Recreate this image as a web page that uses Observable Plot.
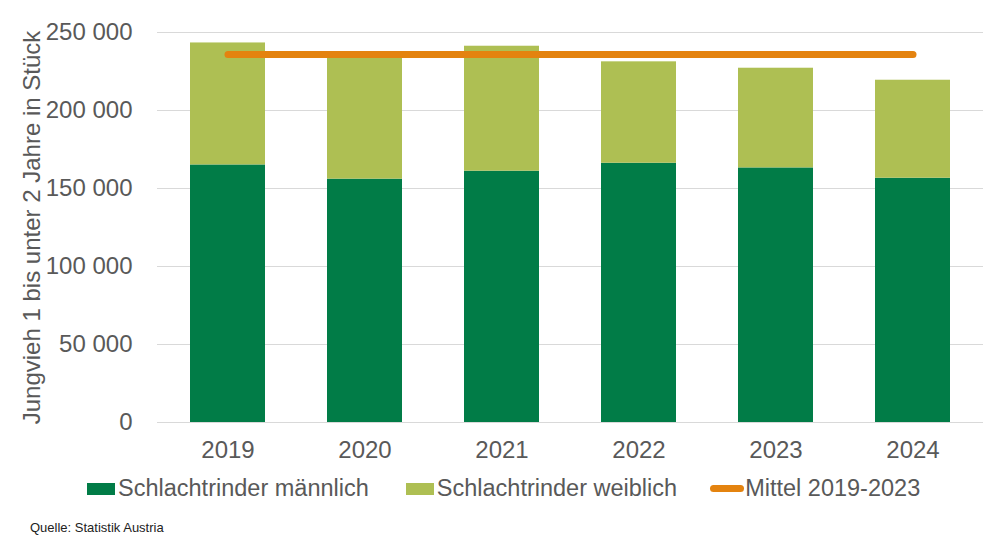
<!DOCTYPE html>
<html>
<head>
<meta charset="utf-8">
<script src="https://cdn.jsdelivr.net/npm/d3@7"></script>
<script src="https://cdn.jsdelivr.net/npm/@observablehq/plot@0.6"></script>
<style>
  body { margin: 0; background: #fff; font-family: "Liberation Sans", Arial, sans-serif; }
  #wrap { position: relative; width: 998px; height: 545px; overflow: hidden; background: #fff; }
  #legend { position: absolute; left: 87px; top: 475px; display: flex; align-items: center; font-size: 23.5px; color: #595959; white-space: nowrap; }
  .item { display: flex; align-items: center; }
  .sw { width: 28px; height: 12px; margin-right: 3px; }
  .ln { width: 34px; height: 7px; border-radius: 4px; margin-right: 1px; }
  #caption { position: absolute; left: 30px; top: 520px; font-size: 13px; color: #222; white-space: nowrap; }
</style>
</head>
<body>
<div id="wrap"></div>
<script>
const years = ["2019", "2020", "2021", "2022", "2023", "2024"];
const maennlich = [165100, 156000, 161100, 166200, 163200, 156600];
const weiblich = [78200, 80700, 80100, 65000, 63900, 62800];
const seriesNames = ["Schlachtrinder männlich", "Schlachtrinder weiblich"];
const meanName = "Mittel 2019-2023";
const meanYears = ["2019", "2020", "2021", "2022", "2023"];
const yTicks = [0, 50000, 100000, 150000, 200000, 250000];
const yTitle = "Jungvieh 1 bis unter 2 Jahre in Stück";
const colors = ["#017C47", "#AEBF53"];
const lineColor = "#E4830F";

const table = [];
years.forEach((y, i) => {
  table.push({year: y, series: seriesNames[0], value: maennlich[i]});
  table.push({year: y, series: seriesNames[1], value: weiblich[i]});
});
const totals = years.map((y, i) => ({year: y, total: maennlich[i] + weiblich[i]}));
const meanValue = d3.mean(totals.filter(d => meanYears.includes(d.year)), d => d.total);
const meanLine = years.map(y => ({year: y, value: meanValue}));

const fmt = d3.formatLocale({decimal: ",", thousands: " ", grouping: [3], currency: ["", ""]}).format(",");
const font = '"Liberation Sans", Arial, sans-serif';

const chart = Plot.plot({
  width: 998,
  height: 470,
  marginLeft: 157,
  marginRight: 15,
  marginTop: 32,
  marginBottom: 48,
  style: {fontFamily: font, fontSize: "24px", color: "#595959", background: "white", overflow: "visible"},
  x: {domain: years, paddingInner: 0.45, paddingOuter: 0.225},
  y: {domain: [0, 250000]},
  color: {domain: seriesNames, range: colors},
  marks: [
    Plot.gridY(yTicks, {stroke: "#d9d9d9", strokeOpacity: 1, strokeWidth: 1}),
    Plot.axisY(yTicks, {tickSize: 0, tickPadding: 25, tickFormat: fmt, fill: "#595959", label: null}),
    Plot.axisY([], {tickSize: 0, fill: "#595959", fontSize: 24,
      label: yTitle, labelAnchor: "center", labelArrow: "none", labelOffset: 135}),
    Plot.axisX({tickSize: 0, tickPadding: 18, fill: "#595959", label: null}),
    Plot.barY(table, {x: "year", y: "value", fill: "series"}),
    Plot.lineY(meanLine, {x: "year", y: "value", stroke: lineColor, strokeWidth: 7, strokeLinecap: "round"})
  ]
});

const wrap = document.getElementById("wrap");
wrap.appendChild(chart);

const legend = document.createElement("div");
legend.id = "legend";
legend.innerHTML =
  `<div class="item"><span class="sw" style="background:${colors[0]}"></span><span>${seriesNames[0]}</span></div>` +
  `<div class="item" style="margin-left:37px"><span class="sw" style="background:${colors[1]}"></span><span>${seriesNames[1]}</span></div>` +
  `<div class="item" style="margin-left:33px"><span class="ln" style="background:${lineColor}"></span><span>${meanName}</span></div>`;
wrap.appendChild(legend);

const cap = document.createElement("div");
cap.id = "caption";
cap.textContent = "Quelle: Statistik Austria";
wrap.appendChild(cap);
</script>
</body>
</html>
